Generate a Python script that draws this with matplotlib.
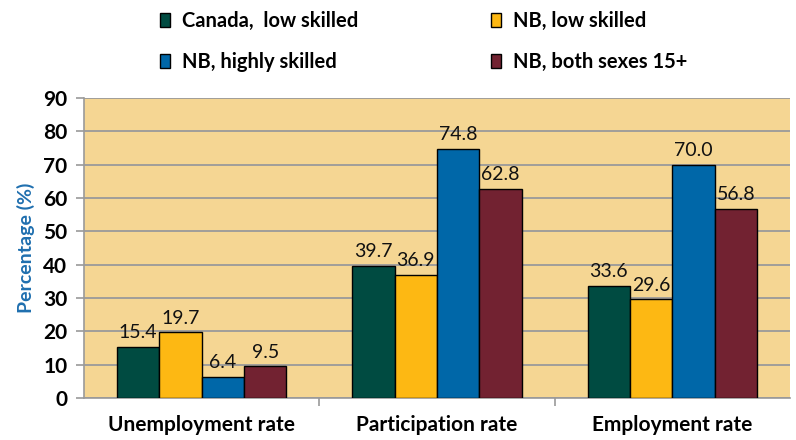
import numpy as np
import matplotlib.pyplot as plt
from matplotlib.patches import Patch

plt.rcParams.update({'font.family': "sans-serif",
                     'font.sans-serif': "Lato",
                     'font.size': 14})

# Data
categories = ["Unemployment rate", "Participation rate", "Employment rate"]
series = ["Canada,  low skilled", "NB, low skilled", "NB, highly skilled", "NB, both sexes 15+"]
canada_low = [15.4, 39.7, 33.6]
nb_low = [19.7, 36.9, 29.6]
nb_high = [6.4, 74.8, 70.0]
nb_all = [9.5, 62.8, 56.8]
yticks = [0, 10, 20, 30, 40, 50, 60, 70, 80, 90]

colors = ["#004B41", "#FDB813", "#0067A8", "#722231"]
bg = "#F5D693"
grid = "#9A9A9A"

fig = plt.figure(figsize=(7.96, 4.40), dpi=100)
ax = fig.add_axes([0.1055, 0.0955, 0.887, 0.6815])
ax.set_facecolor(bg)

x = np.arange(len(categories))
width = 0.18
for i, (vals, color) in enumerate(zip([canada_low, nb_low, nb_high, nb_all], colors)):
    pos = x + (i - 1.5) * width
    ax.bar(pos, vals, width, color=color, edgecolor="black", linewidth=1.0, zorder=3)
    for p, v in zip(pos, vals):
        ax.annotate(f"{v:.1f}", (p, v), xytext=(0, 4), textcoords="offset points",
                    ha="center", va="bottom", fontsize=14, color="#111111")

ax.set_xlim(-0.5, 2.5)
ax.set_ylim(0, 90)
ax.set_yticks(yticks)
ax.yaxis.grid(True, color=grid, linewidth=1.3, zorder=0)
ax.set_axisbelow(True)

ax.set_xticks(x)
ax.set_xticklabels(categories, fontweight="bold", fontsize=15)
ax.tick_params(axis="x", length=0, pad=12)
ax.set_xticks([0.5, 1.5], minor=True)
ax.tick_params(axis="x", which="minor", length=6, color=grid, width=1.2)
ax.tick_params(axis="y", length=6, color=grid, width=1.2, pad=6)
for lbl in ax.get_yticklabels():
    lbl.set_fontweight("bold")
    lbl.set_fontsize(15)

for s in ["top", "right"]:
    ax.spines[s].set_visible(False)
for s in ["left", "bottom"]:
    ax.spines[s].set_color(grid)
    ax.spines[s].set_linewidth(1.2)

ax.set_ylabel("Percentage (%)", color="#1F6FAF", fontweight="bold", fontsize=14, labelpad=6)

# legend fills column-first, so reorder to get rows as in the original
order = [0, 2, 1, 3]
handles = [Patch(facecolor=colors[k], edgecolor="black", linewidth=1.0) for k in order]
labels = [series[k] for k in order]
fig.legend(handles, labels, loc="upper left", bbox_to_anchor=(0.188, 0.998), ncol=2,
           frameon=False, prop={'weight': 'bold', 'size': 14.5}, borderpad=0,
           handlelength=0.5, handleheight=0.65, handletextpad=0.6,
           columnspacing=6.6, labelspacing=1.05)

fig.savefig("out.png", dpi=100)
